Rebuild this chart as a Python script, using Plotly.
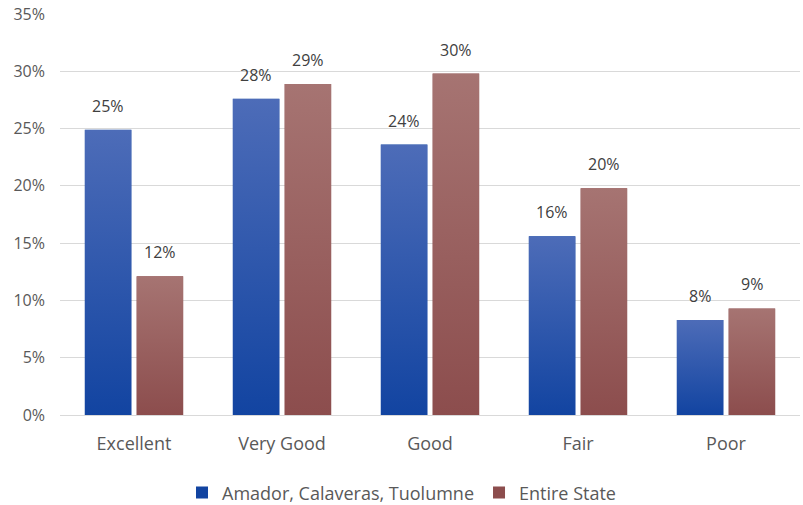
import base64
import plotly.graph_objects as go

# Self-rated health shares (%)
categories = ["Excellent", "Very Good", "Good", "Fair", "Poor"]
region_values = [24.9, 27.6, 23.6, 15.6, 8.3]
state_values = [12.1, 28.9, 29.8, 19.8, 9.3]
series_names = ["Amador, Calaveras, Tuolumne", "Entire State"]
y_ticks = [0, 5, 10, 15, 20, 25, 30, 35]
y_tick_labels = [f"{t}%" for t in y_ticks]

# top / bottom colours of each series' vertical gradient
region_colors = ("#4D6CB8", "#1244A1")
state_colors = ("#A67472", "#8C4D4D")

BARGAP = 0.3
GROUPGAP = 0.1
FONT = "Open Sans"


def gradient_svg(top, bottom):
    svg = (
        '<svg xmlns="http://www.w3.org/2000/svg" width="10" height="100" '
        'preserveAspectRatio="none" viewBox="0 0 10 100">'
        '<defs><linearGradient id="g" x1="0" y1="0" x2="0" y2="1">'
        f'<stop offset="0" stop-color="{top}"/>'
        f'<stop offset="1" stop-color="{bottom}"/>'
        '</linearGradient></defs>'
        '<rect width="10" height="100" fill="url(#g)"/></svg>'
    )
    return "data:image/svg+xml;base64," + base64.b64encode(svg.encode()).decode()


fig = go.Figure()
for name, vals, cols in [
    (series_names[0], region_values, region_colors),
    (series_names[1], state_values, state_colors),
]:
    fig.add_trace(
        go.Bar(
            name=name,
            x=categories,
            y=vals,
            marker=dict(color=cols[1], line=dict(width=0)),
            hoverinfo="x+y+name",
        )
    )

# gradient overlays and value labels, one per bar, from the same values
slot = (1 - BARGAP) / 2
width = slot * (1 - GROUPGAP)
images = []
annotations = []
for k, (vals, cols) in enumerate([(region_values, region_colors), (state_values, state_colors)]):
    src = gradient_svg(*cols)
    for i, v in enumerate(vals):
        center = i + (k - 0.5) * slot
        images.append(
            dict(
                source=src,
                xref="x",
                yref="y",
                x=center - width / 2,
                y=v,
                sizex=width,
                sizey=v,
                sizing="stretch",
                xanchor="left",
                yanchor="top",
                layer="above",
            )
        )
        annotations.append(
            dict(
                xref="x",
                yref="y",
                x=center,
                y=v,
                text=f"{v:.0f}%",
                showarrow=False,
                xanchor="center",
                yanchor="middle",
                yshift=24,
                font=dict(family=FONT, size=16, color="#404040"),
            )
        )

fig.update_layout(
    width=803,
    height=505,
    margin=dict(l=60, r=3, t=14, b=90, autoexpand=False),
    paper_bgcolor="white",
    plot_bgcolor="white",
    barmode="group",
    bargap=BARGAP,
    bargroupgap=GROUPGAP,
    images=images,
    annotations=annotations,
    font=dict(family=FONT, size=16, color="#595959"),
    showlegend=True,
    legend=dict(
        orientation="h",
        x=0.5,
        xref="container",
        xanchor="center",
        y=0.024,
        yref="container",
        yanchor="middle",
        font=dict(family=FONT, size=18, color="#595959"),
        traceorder="normal",
    ),
    xaxis=dict(
        showgrid=False,
        showline=True,
        linecolor="#D9D9D9",
        linewidth=1,
        ticks="outside",
        ticklen=12,
        tickcolor="rgba(0,0,0,0)",
        tickfont=dict(family=FONT, size=18, color="#595959"),
    ),
    yaxis=dict(
        range=[0, 35],
        tickvals=y_ticks,
        ticktext=y_tick_labels,
        showgrid=True,
        gridcolor="#D9D9D9",
        gridwidth=1,
        zeroline=False,
        showline=False,
        ticklabelstandoff=14,
        tickfont=dict(family=FONT, size=16, color="#595959"),
    ),
)

fig.write_html("out.html")
